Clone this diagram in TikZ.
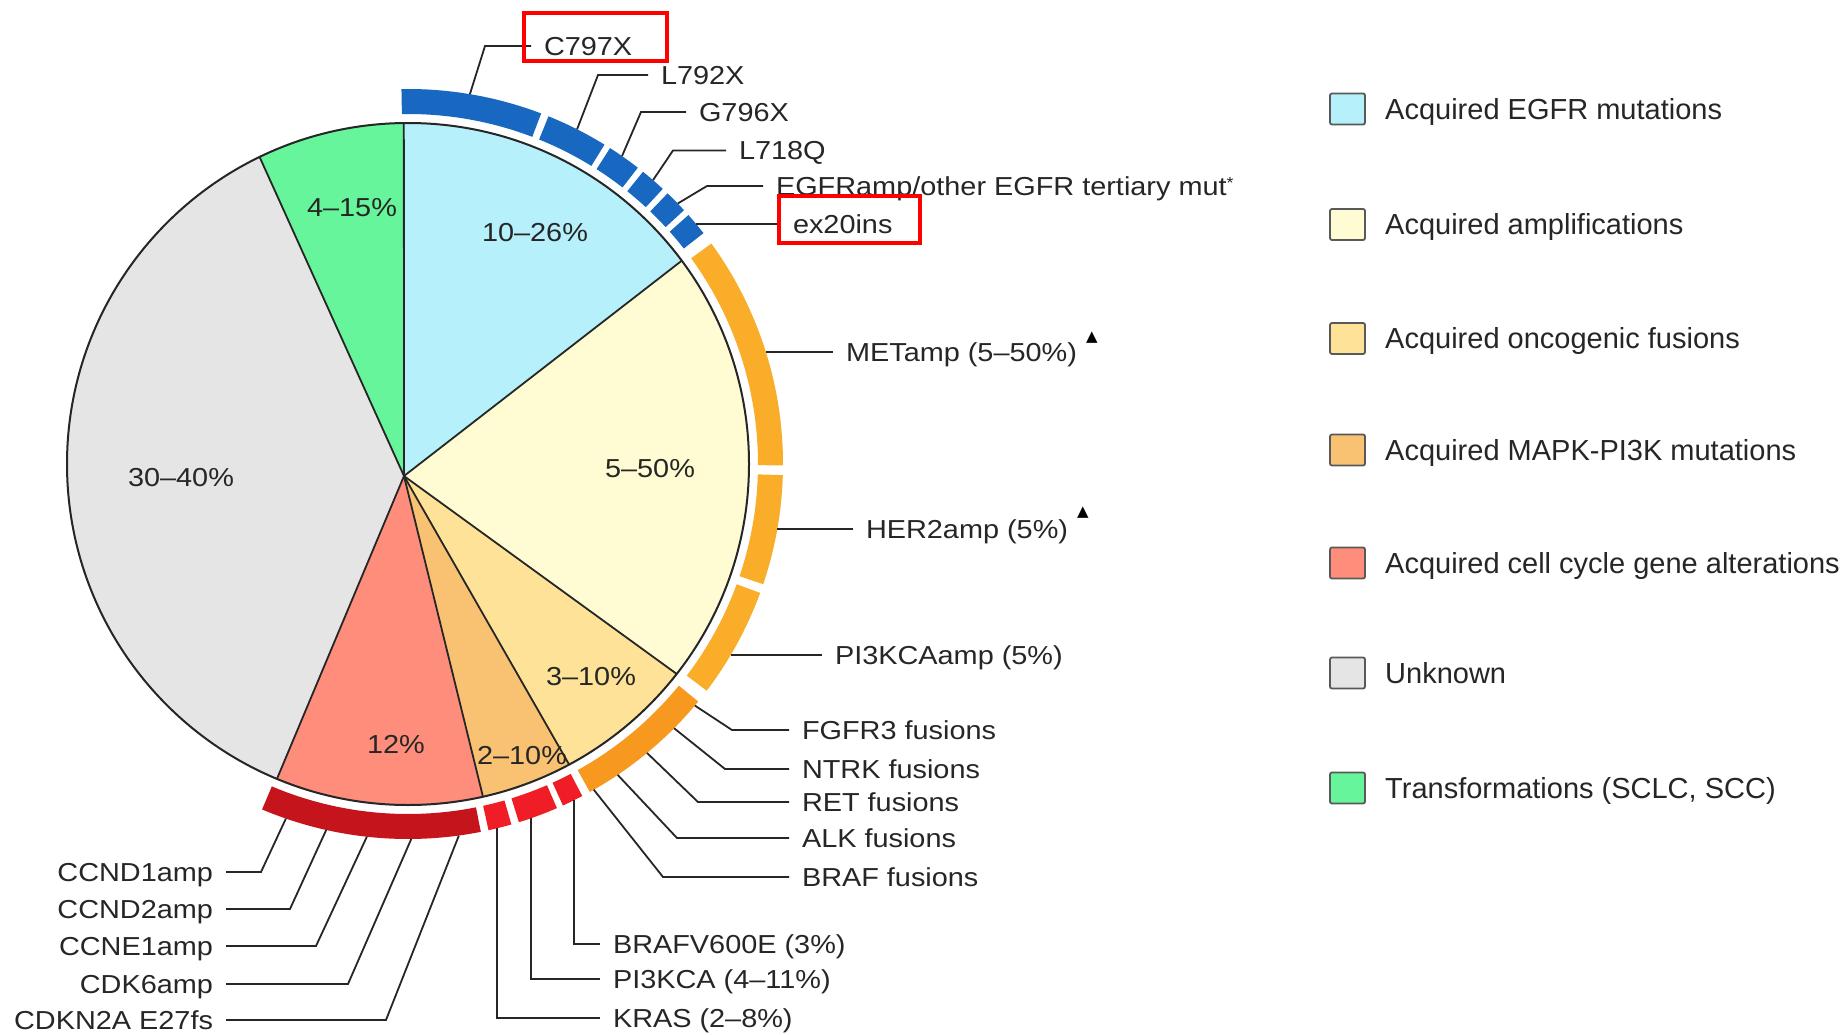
\documentclass[tikz,border=0pt]{standalone}
\usepackage{fontspec}
\setmainfont{Liberation Sans}
\newfontfamily\labfont[FakeStretch=1.11]{Liberation Sans}
\newfontfamily\symfont{DejaVu Sans}
\usetikzlibrary{calc}
\definecolor{cEGFR}{HTML}{B5F0FB}
\definecolor{cAmp}{HTML}{FFFBD2}
\definecolor{cFus}{HTML}{FDE297}
\definecolor{cMAPK}{HTML}{F9C272}
\definecolor{cCell}{HTML}{FE8E7B}
\definecolor{cUnk}{HTML}{E5E5E5}
\definecolor{cTrans}{HTML}{66F59B}
\definecolor{bBlue}{HTML}{1868C2}
\definecolor{bAmp}{HTML}{F9AD29}
\definecolor{bFus}{HTML}{F7981F}
\definecolor{bMAPK}{HTML}{F01D26}
\definecolor{bCell}{HTML}{C5141C}
\definecolor{ink}{HTML}{262626}
\newcommand\pieWedge[3]{\fill[#1] (P) -- ($(O)+(#2:341pt)$) arc[start angle=#2, end angle=#3, radius=341pt] -- cycle;}
\newcommand\bandSeg[3]{\fill[#1] ($(O)+(#2:350pt)$) arc[start angle=#2, end angle=#3, radius=350pt] -- ($(O)+(#3:375pt)$) arc[start angle=#3, end angle=#2, radius=375pt] -- cycle;}
\begin{document}
\begin{tikzpicture}[x=1pt,y=1pt,
  lab/.style={font={\labfont\fontsize{26}{30}\selectfont}, text=ink, inner xsep=13pt, inner ysep=0pt, outer sep=0pt, text height=18.6pt, text depth=0pt},
  labr/.style={lab, anchor=west},
  labl/.style={lab, anchor=east},
  pct/.style={font={\labfont\fontsize{26}{30}\selectfont}, text=ink, inner sep=0pt, text height=18.6pt, text depth=0pt},
  leader/.style={draw=ink, line width=1.8pt},
  legbox/.style={draw=black!65, line width=1.8pt, rounded corners=2pt, minimum width=35pt, minimum height=31pt, inner sep=0pt},
  legtext/.style={font={\fontsize{29}{34}\selectfont}, text=ink, anchor=west, inner sep=0pt, text height=20.8pt, text depth=0pt},
  tri/.style={font={\symfont\fontsize{15}{15}\selectfont}, text=black, inner sep=0pt},
  hl/.style={draw=red, line width=4pt}
]
\useasboundingbox (0,0) rectangle (1847,-1035);
\fill[white] (0,0) rectangle (1847,-1035);
\coordinate (O) at (408,-464);
\coordinate (P) at (404,-476);
% pie wedges
\pieWedge{cEGFR}{36.6}{90.7}
\pieWedge{cTrans}{90.7}{115.8}
\pieWedge{cUnk}{115.8}{247.4}
\pieWedge{cCell}{247.4}{282.7}
\pieWedge{cMAPK}{282.7}{298.2}
\pieWedge{cFus}{298.2}{322}
\pieWedge{cAmp}{322}{396.6}
\foreach \a in {36.6,90.7,115.8,247.4,282.7,298.2,322}
  \draw[ink, line width=1.8pt] (P) -- ($(O)+(\a:341pt)$);
\draw[ink, line width=2pt] (O) circle[radius=341pt];
% outer bands
\bandSeg{bBlue}{69.2}{91}
\bandSeg{bBlue}{58.4}{68}
\bandSeg{bBlue}{52.2}{57.4}
\bandSeg{bBlue}{47.2}{51.2}
\bandSeg{bBlue}{42.6}{46.2}
\bandSeg{bBlue}{38}{41.6}
\bandSeg{bAmp}{-0.2}{36}
\bandSeg{bAmp}{-18.7}{-1.7}
\bandSeg{bAmp}{-37.2}{-20.1}
\bandSeg{bFus}{-61}{-39.3}
\bandSeg{bMAPK}{-65.6}{-62.3}
\bandSeg{bMAPK}{-72.8}{-66.6}
\bandSeg{bMAPK}{-77.6}{-74}
\bandSeg{bCell}{-112.9}{-78.8}
% percentages
\node[pct] (p1026) at (535,-232) {10–26\%};
\node[pct] (p415) at (352,-207.5) {4–15\%};
\node[pct] (p3040) at (181,-477) {30–40\%};
\node[pct] (p550) at (650,-468) {5–50\%};
\node[pct] (p310) at (591,-676) {3–10\%};
\node[pct] (p12) at (396,-744) {12\%};
\node[pct] (p210) at (522,-755) {2–10\%};
% EGFR labels
\node[labr] (nC797) at (531,-46) {C797X};
\node[labr] (nL792) at (648,-75) {L792X};
\node[labr] (nG796) at (686,-112) {G796X};
\node[labr] (nL718) at (726,-150.5) {L718Q};
\node[labr] (nEGFR) at (763,-186) {EGFRamp/other EGFR tertiary mut\raisebox{7pt}{\fontsize{16}{16}\selectfont *}};
\node[labr] (nEx20) at (780,-224) {ex20ins};
\coordinate (sC797) at ($(O)+(80.5:375pt)$);
\coordinate (sL792) at ($(O)+(63.2:375pt)$);
\coordinate (sG796) at ($(O)+(55.2:375pt)$);
\coordinate (sL718) at ($(O)+(49.2:375pt)$);
\coordinate (sEGFR) at ($(O)+(44:375pt)$);
\coordinate (sEx20) at (696,-224);
\draw[leader] (sC797) -- ([xshift=-46pt]nC797.west) -- (nC797.west);
\draw[leader] (sL792) -- ([xshift=-50pt]nL792.west) -- (nL792.west);
\draw[leader] (sG796) -- ([xshift=-45pt]nG796.west) -- (nG796.west);
\draw[leader] (sL718) -- ([xshift=-53pt]nL718.west) -- (nL718.west);
\draw[leader] (sEGFR) -- ([xshift=-56pt]nEGFR.west) -- (nEGFR.west);
\draw[leader] (sEx20) -- (nEx20.west);
% amplification labels
\node[labr] (nMET) at (833,-352) {METamp (5–50\%)};
\node[labr] (nHER2) at (853,-529) {HER2amp (5\%)};
\node[labr] (nPIKamp) at (822,-655) {PI3KCAamp (5\%)};
\node[tri] (tMET) at (1092,-338) {▲};
\node[tri] (tHER) at (1083,-513) {▲};
\coordinate (sMET) at (766,-352);
\coordinate (sHER2) at (777,-529);
\coordinate (sPIKamp) at (731,-655);
\draw[leader] (sMET) -- (nMET.west);
\draw[leader] (sHER2) -- (nHER2.west);
\draw[leader] (sPIKamp) -- (nPIKamp.west);
% fusion labels
\node[labr] (nFGFR3) at (789,-730) {FGFR3 fusions};
\node[labr] (nNTRK) at (789,-769) {NTRK fusions};
\node[labr] (nRET) at (789,-802) {RET fusions};
\node[labr] (nALK) at (789,-838) {ALK fusions};
\node[labr] (nBRAFf) at (789,-877) {BRAF fusions};
\coordinate (sFGFR3) at ($(O)+(-40.1:375pt)$);
\coordinate (sNTRK) at ($(O)+(-44.8:375pt)$);
\coordinate (sRET) at ($(O)+(-50.4:375pt)$);
\coordinate (sALK) at ($(O)+(-56:375pt)$);
\coordinate (sBRAFf) at ($(O)+(-60.3:375pt)$);
\draw[leader] (sFGFR3) -- ([xshift=-57pt]nFGFR3.west) -- (nFGFR3.west);
\draw[leader] (sNTRK) -- ([xshift=-64pt]nNTRK.west) -- (nNTRK.west);
\draw[leader] (sRET) -- ([xshift=-91pt]nRET.west) -- (nRET.west);
\draw[leader] (sALK) -- ([xshift=-112pt]nALK.west) -- (nALK.west);
\draw[leader] (sBRAFf) -- ([xshift=-126pt]nBRAFf.west) -- (nBRAFf.west);
% MAPK labels
\node[labr] (nBRAFV) at (600,-944) {BRAFV600E (3\%)};
\node[labr] (nPI3KCA) at (600,-979) {PI3KCA (4–11\%)};
\node[labr] (nKRAS) at (600,-1018) {KRAS (2–8\%)};
\coordinate (sBRAFV) at (574,-800.3);
\coordinate (sPI3KCA) at (531,-818.3);
\coordinate (sKRAS) at (497,-828.3);
\draw[leader] (sBRAFV) |- (nBRAFV.west);
\draw[leader] (sPI3KCA) |- (nPI3KCA.west);
\draw[leader] (sKRAS) |- (nKRAS.west);
% cell cycle labels
\node[labl] (nCCND1) at (226,-872) {CCND1amp};
\node[labl] (nCCND2) at (226,-909) {CCND2amp};
\node[labl] (nCCNE1) at (226,-946) {CCNE1amp};
\node[labl] (nCDK6) at (226,-984) {CDK6amp};
\node[labl] (nCDKN2A) at (226,-1020) {CDKN2A E27fs};
\coordinate (sCCND1) at ($(O)+(251:375pt)$);
\coordinate (sCCND2) at ($(O)+(257.4:375pt)$);
\coordinate (sCCNE1) at ($(O)+(263.7:375pt)$);
\coordinate (sCDK6) at ($(O)+(270.5:375pt)$);
\coordinate (sCDKN2A) at ($(O)+(277.8:375pt)$);
\draw[leader] (sCCND1) -- ([xshift=35pt]nCCND1.east) -- (nCCND1.east);
\draw[leader] (sCCND2) -- ([xshift=64pt]nCCND2.east) -- (nCCND2.east);
\draw[leader] (sCCNE1) -- ([xshift=90pt]nCCNE1.east) -- (nCCNE1.east);
\draw[leader] (sCDK6) -- ([xshift=122pt]nCDK6.east) -- (nCDK6.east);
\draw[leader] (sCDKN2A) -- ([xshift=160pt]nCDKN2A.east) -- (nCDKN2A.east);
% legend
\node[legbox, fill=cEGFR] (lb1) at (1347.5,-109) {};
\node[legtext] (lt1) at (1385,-109) {Acquired EGFR mutations};
\node[legbox, fill=cAmp] (lb2) at (1347.5,-224.5) {};
\node[legtext] (lt2) at (1385,-224.5) {Acquired amplifications};
\node[legbox, fill=cFus] (lb3) at (1347.5,-338.5) {};
\node[legtext] (lt3) at (1385,-338.5) {Acquired oncogenic fusions};
\node[legbox, fill=cMAPK] (lb4) at (1347.5,-450) {};
\node[legtext] (lt4) at (1385,-450) {Acquired MAPK-PI3K mutations};
\node[legbox, fill=cCell] (lb5) at (1347.5,-563) {};
\node[legtext] (lt5) at (1385,-563) {Acquired cell cycle gene alterations};
\node[legbox, fill=cUnk] (lb6) at (1347.5,-673) {};
\node[legtext] (lt6) at (1385,-673) {Unknown};
\node[legbox, fill=cTrans] (lb7) at (1347.5,-788) {};
\node[legtext] (lt7) at (1385,-788) {Transformations (SCLC, SCC)};
% highlight boxes
\draw[hl] (524,-13) rectangle (667,-61);
\draw[hl] (779,-196) rectangle (920,-243);
\end{tikzpicture}
\end{document}
